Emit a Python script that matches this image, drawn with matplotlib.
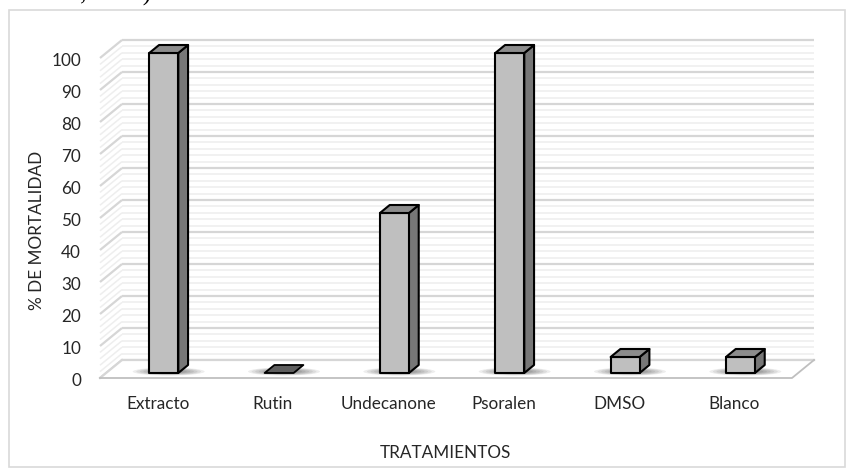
import matplotlib
matplotlib.use("Agg")
import matplotlib.pyplot as plt
from matplotlib.patches import Polygon, Ellipse, Rectangle
from matplotlib import transforms

# ---- data ----
categories = ["Extracto", "Rutin", "Undecanone", "Psoralen", "DMSO", "Blanco"]
mortality = [100, 0, 50, 100, 5, 5]
y_ticks = list(range(0, 101, 10))
y_label = "% DE MORTALIDAD"
x_label = "TRATAMIENTOS"

# ---- figure geometry (pixels) ----
W, H = 847, 468
fig = plt.figure(figsize=(W / 100, H / 100), dpi=100)
fig.patch.set_facecolor("white")

left_px, right_px = 100, 792
zero_px, top_px = 378, 58
ax = fig.add_axes([left_px / W, 1 - zero_px / H,
                   (right_px - left_px) / W, (zero_px - top_px) / H])
ax.set_xlim(-0.5, len(categories) - 0.5)
ax.set_ylim(0, 100)
ax.axis("off")

sx = (right_px - left_px) / len(categories)   # px per category
sy = (zero_px - top_px) / 100.0                # px per percent

# perspective depth of the floor / walls
ddx = 22 / sx
ddy = 18 / sy
x0, x1 = -0.5, len(categories) - 0.5

# back wall and side wall gridlines
for v in range(0, 101, 2):
    major = v % 10 == 0
    col = "#d6d6d6" if major else "#eeeeee"
    lw = 1.6 if major else 1.1
    ax.plot([x0 + ddx, x1 + ddx], [v + ddy, v + ddy], color=col, lw=lw,
            clip_on=False, zorder=1, solid_capstyle="butt")
    ax.plot([x0, x0 + ddx], [v, v + ddy], color=col, lw=lw,
            clip_on=False, zorder=1, solid_capstyle="butt")

# floor
floor = Polygon([(x0, 0), (x1, 0), (x1 + ddx, ddy), (x0 + ddx, ddy)],
                closed=True, facecolor="white", edgecolor="none",
                clip_on=False, zorder=1.5)
ax.add_patch(floor)
ax.plot([x0 + ddx, x1 + ddx], [ddy, ddy], color="#d6d6d6", lw=1.6,
        clip_on=False, zorder=1.6)
ax.plot([x0, x0 + ddx], [0, ddy], color="#d6d6d6", lw=1.6,
        clip_on=False, zorder=1.6)
ax.plot([x0, x1, x1 + ddx], [0, 0, ddy], color="#bfbfbf", lw=1.3,
        clip_on=False, zorder=1.7)

# bars
f0, f1 = 5 / 18, 13 / 18
ox0, oy0 = f0 * ddx, f0 * ddy
ox1, oy1 = f1 * ddx, f1 * ddy
hw = 14.5 / sx

for i, v in enumerate(mortality):
    # soft shadow around the base
    cx = i + (ox0 + ox1) / 2
    cy = (oy0 + oy1) / 2 - 0.8
    for k in range(8):
        s = 1 - k * 0.1
        ax.add_patch(Ellipse((cx, cy), (72 * s) / sx, (8 * s) / sy,
                             facecolor="black", edgecolor="none", alpha=0.07,
                             clip_on=False, zorder=2))
    lx, rx = i - hw + ox0, i + hw + ox0
    top_face = [(lx, v + oy0), (rx, v + oy0), (rx + (ox1 - ox0), v + oy1),
                (lx + (ox1 - ox0), v + oy1)]
    if v > 0:
        front = [(lx, oy0), (rx, oy0), (rx, v + oy0), (lx, v + oy0)]
        side = [(rx, oy0), (rx + (ox1 - ox0), oy1),
                (rx + (ox1 - ox0), v + oy1), (rx, v + oy0)]
        ax.add_patch(Polygon(side, closed=True, facecolor="#777777",
                             edgecolor="black", lw=1.5, joinstyle="round",
                             clip_on=False, zorder=3))
        ax.add_patch(Polygon(front, closed=True, facecolor="#bfbfbf",
                             edgecolor="black", lw=1.5, joinstyle="round",
                             clip_on=False, zorder=3.1))
        ax.add_patch(Polygon(top_face, closed=True, facecolor="#8c8c8c",
                             edgecolor="black", lw=1.5, joinstyle="round",
                             clip_on=False, zorder=3.2))
    else:
        ax.add_patch(Polygon(top_face, closed=True, facecolor="#5e5e5e",
                             edgecolor="black", lw=1.3, joinstyle="round",
                             clip_on=False, zorder=3.2))

# text
font = "Lato"
fs = 12.3
tick_tr = transforms.offset_copy(ax.transData, fig=fig, x=-19, y=-2.5,
                                 units="dots")
for v in y_ticks:
    ax.text(x0, v, str(v), transform=tick_tr, ha="right", va="center",
            fontsize=fs, family=font, color="#262626")

cat_tr = transforms.offset_copy(ax.transData, fig=fig, x=0, y=-26,
                                units="dots")
for i, c in enumerate(categories):
    ax.text(i, 0, c, transform=cat_tr, ha="center", va="center",
            fontsize=fs, family=font, color="#262626")

fig.text(37 / W, 1 - 230 / H, y_label, rotation=90, ha="center",
         va="center", fontsize=fs, family=font, color="#262626")
fig.text(445 / W, 1 - 453 / H, x_label, ha="center", va="center",
         fontsize=fs, family=font, color="#262626")

# chart frame
fig.add_artist(Rectangle((9 / W, 1 - 467 / H), (845 - 9) / W, (467 - 10) / H,
                         transform=fig.transFigure, fill=False,
                         edgecolor="#d9d9d9", lw=1.2))

# tail of the preceding paragraph line
fig.text(15 / W, 1 - 1 / H, "Cabon, 2012).", ha="left", va="baseline",
         fontsize=18, family="Liberation Serif", color="black")

fig.savefig("out.png", dpi=100, facecolor="white")
